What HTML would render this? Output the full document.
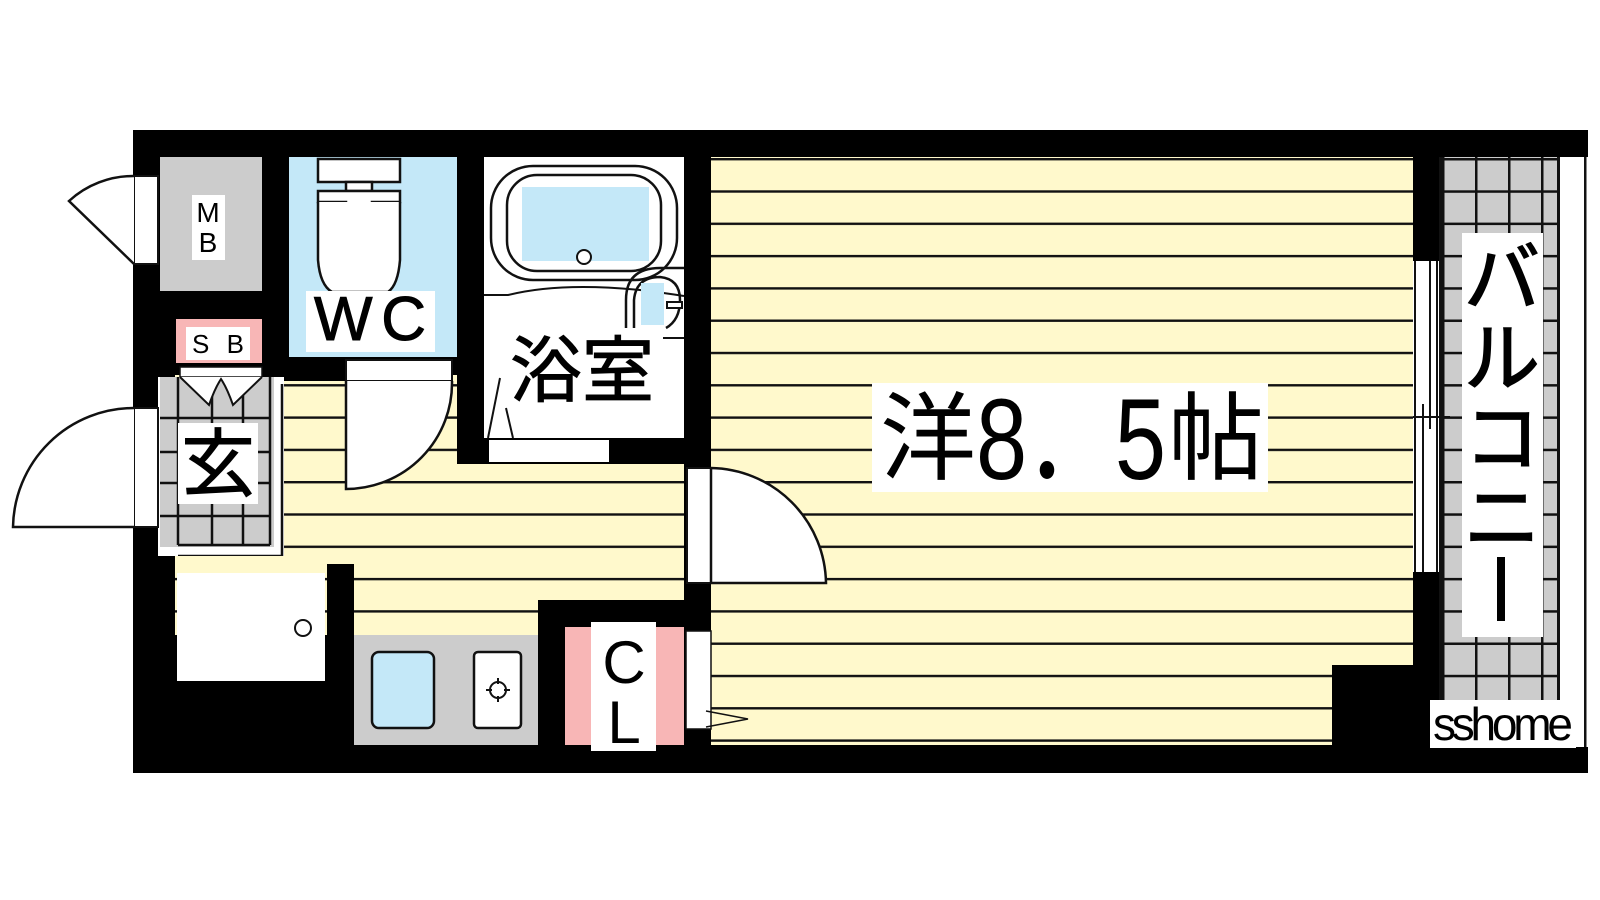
<!DOCTYPE html>
<html><head><meta charset="utf-8"><style>
html,body{margin:0;padding:0;background:#fff;width:1600px;height:900px;overflow:hidden}
svg{display:block}
text{font-family:"Liberation Sans","Noto Sans CJK JP",sans-serif;fill:#000}
</style></head><body>
<svg width="1600" height="900" viewBox="0 0 1600 900" xmlns="http://www.w3.org/2000/svg">
<defs>
<pattern id="yl" x="0" y="158" width="10" height="32.3" patternUnits="userSpaceOnUse">
<rect width="10" height="32.3" fill="#fff9cc"/><rect y="0" width="10" height="2.4" fill="#111"/>
</pattern>
<pattern id="tile" x="1442" y="158" width="33" height="32.3" patternUnits="userSpaceOnUse">
<rect width="33" height="32.3" fill="#cccccc"/><rect width="2.5" height="32.3" fill="#111"/><rect width="33" height="2.5" fill="#111"/>
</pattern>
</defs>
<rect x="133" y="130" width="1280" height="643" fill="#000"/>
<rect x="1413" y="130" width="175" height="27" fill="#000"/>
<rect x="1413" y="747" width="175" height="26" fill="#000"/>
<rect x="1439" y="157" width="121" height="590" fill="url(#tile)"/>
<rect x="1439" y="157" width="3" height="590" fill="#111"/>
<rect x="1557" y="157" width="3" height="590" fill="#111"/>
<rect x="1560" y="157" width="25" height="590" fill="#fff"/>
<rect x="1584" y="157" width="2.5" height="590" fill="#111"/>
<rect x="1413" y="157" width="26" height="104" fill="#000"/>
<rect x="1413" y="572" width="26" height="175" fill="#000"/>
<rect x="1413" y="261" width="26" height="311" fill="#fff"/>
<g stroke="#111" stroke-width="2">
<line x1="1415" y1="261" x2="1415" y2="572"/><line x1="1437" y1="261" x2="1437" y2="572"/>
<line x1="1423" y1="404" x2="1423" y2="572"/><line x1="1430" y1="261" x2="1430" y2="429"/>
<line x1="1402" y1="417" x2="1450" y2="417"/>
</g>
<rect x="1462" y="233" width="81" height="404" fill="#fff"/>
<g stroke="#000" stroke-width="1.5">
<text x="1502" y="305" font-size="76" text-anchor="middle">バ</text>
<text x="1502" y="385" font-size="76" text-anchor="middle">ル</text>
<text x="1502" y="465" font-size="76" text-anchor="middle">コ</text>
<text x="1502" y="545" font-size="76" text-anchor="middle">ニ</text>
</g>
<rect x="1497" y="557" width="8" height="64" fill="#000"/>
<rect x="1430" y="700" width="146" height="48" fill="#fff"/>
<text x="1503" y="740" font-size="46" text-anchor="middle" textLength="140">sshome</text>
<rect x="711" y="157" width="702" height="588" fill="url(#yl)"/>
<rect x="1332" y="665" width="81" height="82" fill="#000"/>
<rect x="872" y="383" width="396" height="109" fill="#fff"/>
<text x="880" y="472" font-size="96">洋</text>
<text x="1168" y="472" font-size="96">帖</text>
<text transform="translate(976,479) scale(1,1.25)" x="0" y="0" font-size="92" textLength="190">8．5</text>
<rect x="175" y="375" width="509" height="260" fill="url(#yl)"/>
<rect x="538" y="600" width="173" height="27" fill="#000"/>
<rect x="538" y="600" width="27" height="147" fill="#000"/>
<rect x="684" y="583" width="27" height="164" fill="#000"/>
<rect x="684" y="464" width="27" height="4" fill="#000"/>
<rect x="457" y="157" width="254" height="307" fill="#000"/>
<rect x="262" y="157" width="84" height="224" fill="#000"/>
<rect x="133" y="157" width="42" height="380" fill="#000"/>
<rect x="133" y="543" width="42" height="230" fill="#000"/>
<rect x="687" y="468" width="24" height="115" fill="#fff" stroke="#111" stroke-width="2"/>
<path d="M711,468 A117,117 0 0 1 826,583 L711,583 Z" fill="#fff" stroke="#111" stroke-width="2.5"/>
<rect x="160" y="157" width="102" height="134" fill="#cccccc"/>
<rect x="192" y="195" width="33" height="65" fill="#fff"/>
<text x="208" y="222" font-size="28" text-anchor="middle">M</text>
<text x="208" y="252" font-size="28" text-anchor="middle">B</text>
<rect x="134" y="176" width="24" height="88" fill="#fff" stroke="#111" stroke-width="2"/>
<path d="M134,264 L69,201 A95,95 0 0 1 134,176" fill="#fff" stroke="#111" stroke-width="2.5"/>
<rect x="289" y="157" width="168" height="200" fill="#c4e8f8"/>
<g fill="#fff" stroke="#111" stroke-width="2.5">
<rect x="318" y="159" width="82" height="23"/>
<rect x="346" y="182" width="26" height="9"/>
<path d="M318,191 L400,191 L400,202 L372,202 L372,210 L346,210 L346,202 L318,202 Z"/>
<path d="M318,202 L318,260 Q320,285 332,292 L388,292 Q398,285 400,260 L400,202"/>
</g>
<rect x="306" y="291" width="129" height="61" fill="#fff"/>
<text x="370" y="340" font-size="62" text-anchor="middle" textLength="112" stroke="#000" stroke-width="1">W C</text>
<rect x="346" y="360" width="106" height="21" fill="#fff" stroke="#111" stroke-width="2"/>
<path d="M346,381 L346,489 A106,106 0 0 0 452,381" fill="#fff" stroke="#111" stroke-width="2.5"/>
<rect x="176" y="319" width="86" height="44" fill="#f8b6b6"/>
<rect x="186" y="327" width="64" height="33" fill="#fff"/>
<text x="218" y="353" font-size="26" text-anchor="middle" textLength="52">S B</text>
<rect x="180" y="367" width="82" height="10" fill="#fff" stroke="#111" stroke-width="1.5"/>
<rect x="158" y="377" width="126" height="179" fill="#fff"/>
<rect x="160" y="377" width="114" height="170" fill="#cccccc"/>
<g stroke="#111" stroke-width="2.5">
<line x1="178" y1="377" x2="178" y2="545"/><line x1="212" y1="377" x2="212" y2="545"/>
<line x1="243" y1="377" x2="243" y2="545"/><line x1="270" y1="377" x2="270" y2="545"/>
<line x1="160" y1="418" x2="270" y2="418"/><line x1="160" y1="452" x2="270" y2="452"/>
<line x1="160" y1="483" x2="270" y2="483"/><line x1="160" y1="516" x2="270" y2="516"/>
<line x1="178" y1="545" x2="270" y2="545"/>
<line x1="282" y1="384" x2="282" y2="556"/><line x1="178" y1="556" x2="282" y2="556"/>
</g>
<path d="M180,377 L209,405 Q215,388 221,379 Q227,388 233,405 L262,377" fill="#fff" stroke="#111" stroke-width="2"/>
<rect x="178" y="423" width="80" height="81" fill="#fff"/>
<text x="218" y="490" font-size="74" text-anchor="middle" stroke="#000" stroke-width="1">玄</text>
<rect x="134" y="408" width="24" height="119" fill="#fff" stroke="#111" stroke-width="2"/>
<path d="M134,408 A121,121 0 0 0 13,527 L134,527" fill="#fff" stroke="#111" stroke-width="2.5"/>
<rect x="175" y="556" width="152" height="17" fill="#fff9cc"/>
<rect x="177" y="573" width="148" height="108" fill="#fff"/>
<circle cx="303" cy="628" r="8" fill="#fff" stroke="#111" stroke-width="2"/>
<rect x="327" y="564" width="27" height="183" fill="#000"/>
<rect x="354" y="635" width="184" height="110" fill="#cccccc"/>
<rect x="372" y="652" width="62" height="76" rx="7" fill="#c4e8f8" stroke="#111" stroke-width="2.5"/>
<rect x="474" y="652" width="47" height="76" rx="4" fill="#fff" stroke="#111" stroke-width="2.5"/>
<circle cx="498" cy="690" r="8" fill="none" stroke="#111" stroke-width="2"/>
<g stroke="#111" stroke-width="2"><line x1="498" y1="678" x2="498" y2="684"/><line x1="498" y1="696" x2="498" y2="702"/><line x1="486" y1="690" x2="492" y2="690"/><line x1="504" y1="690" x2="510" y2="690"/></g>
<rect x="565" y="627" width="119" height="118" fill="#f8b6b6"/>
<rect x="591" y="622" width="65" height="129" fill="#fff"/>
<text x="624" y="683" font-size="60" text-anchor="middle">C</text>
<text x="624" y="743" font-size="60" text-anchor="middle">L</text>
<rect x="686" y="631" width="25" height="98" fill="#fff" stroke="#111" stroke-width="1.5"/>
<path d="M706,711 L748,719 L706,727" fill="none" stroke="#111" stroke-width="1.5"/>
<rect x="484" y="157" width="200" height="281" fill="#fff"/>
<rect x="484" y="440" width="200" height="24" fill="#000"/>
<rect x="489" y="440" width="120" height="22" fill="#fff"/>
<rect x="491" y="166" width="186" height="114" rx="42" fill="none" stroke="#111" stroke-width="2.5"/>
<rect x="507" y="175" width="154" height="96" rx="30" fill="none" stroke="#111" stroke-width="2.5"/>
<rect x="522" y="187" width="127" height="74" fill="#c4e8f8"/>
<circle cx="584" cy="257" r="7" fill="#fff" stroke="#111" stroke-width="2"/>
<path d="M484,295 L508,295 Q560,282 640,290 Q665,293 684,296" fill="none" stroke="#111" stroke-width="2"/>
<path d="M626,328 L626,300 Q626,268 660,268 L684,268" fill="none" stroke="#111" stroke-width="2.5"/>
<path d="M634,328 L634,300 Q636,277 660,277 Q680,279 680,300 Q680,320 666,328" fill="none" stroke="#111" stroke-width="2.5"/>
<rect x="641" y="283" width="23" height="42" fill="#c4e8f8"/>
<rect x="667" y="302" width="15" height="6" fill="#fff" stroke="#111" stroke-width="2"/>
<line x1="663" y1="338" x2="684" y2="338" stroke="#111" stroke-width="2"/>
<text x="582" y="396" font-size="72" text-anchor="middle" stroke="#000" stroke-width="1">浴室</text>
<path d="M500,378 L488,438 M506,408 L513,438" stroke="#111" stroke-width="2" fill="none"/>
</svg>
</body></html>
